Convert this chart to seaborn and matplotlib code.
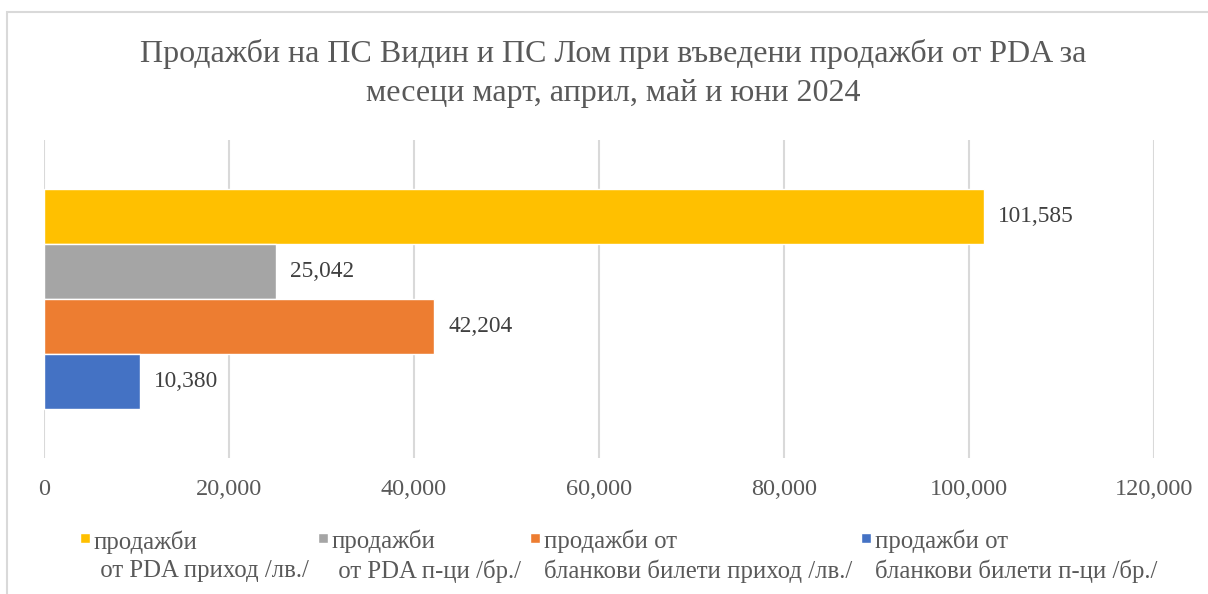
import pandas as pd
import numpy as np
import seaborn as sns
import matplotlib.pyplot as plt
from matplotlib.patches import Rectangle, Patch
from matplotlib.legend_handler import HandlerPatch

# ---- data ----
series = ['продажби\n от PDA приход /лв./',
          'продажби\n от PDA п-ци /бр./',
          'продажби от\nбланкови билети приход /лв./',
          'продажби от\nбланкови билети п-ци /бр./']
values = [101585, 25042, 42204, 10380]
colors = ['#FFC000', '#A5A5A5', '#ED7D31', '#4472C4']
xticks = [0, 20000, 40000, 60000, 80000, 100000, 120000]
title = 'Продажби на ПС Видин и ПС Лом при въведени продажби от PDA за\nмесеци март, април, май и юни 2024'

sns.set_theme(style='white')
plt.rcParams['font.family'] = ['Liberation Serif', 'DejaVu Serif']
txt = '#595959'

df = pd.DataFrame({'group': ['всички'] * len(values), 'series': series, 'value': values})

fig = plt.figure(figsize=(12.08, 5.94), dpi=100)
# light frame like the excel chart area
fig.patches.append(Rectangle((7 / 1208, -0.05), 1.1, 1 - 12 / 594 + 0.05, transform=fig.transFigure,
                             fill=False, edgecolor='#D9D9D9', linewidth=1.5))

ax = fig.add_axes([0.0364, 0.229, 0.919, 0.535])
sns.barplot(data=df, y='group', x='value', hue='series', hue_order=series, palette=colors,
            orient='h', width=0.69, gap=0, saturation=1, errorbar=None, legend=False, ax=ax)

for c in ax.containers:
    ax.bar_label(c, labels=[f'{v:,.0f}' for v in c.datavalues], padding=10,
                 fontsize=16.8, color='#404040')

ax.set_xlim(0, 120000)
ax.set_ylim(0.5, -0.5)
ax.set_xticks(xticks)
ax.set_xticklabels([f'{t:,}' for t in xticks], fontsize=17.5, color=txt)
ax.set_yticks([])
ax.set_xlabel('')
ax.set_ylabel('')
ax.tick_params(axis='x', length=0, pad=15)
ax.grid(axis='x', color='#D9D9D9', linewidth=1.5)
ax.set_axisbelow(True)
for s in ax.spines.values():
    s.set_visible(False)

fig.text(0.508, 0.934, title, ha='center', va='top', fontsize=23, color=txt, linespacing=1.43)


# legend square sits next to the first line of the label
def top_square(legend, orig_handle, xdescent, ydescent, width, height, fontsize):
    return Rectangle((-xdescent, -ydescent + fontsize * 0.9), width, 7.4)


handles = [Patch(facecolor=col) for col in colors]
leg = fig.legend(handles, series, loc='upper left', bbox_to_anchor=(0.066, 0.108), ncol=4,
                 frameon=False, fontsize=17.8, labelcolor=txt, handlelength=0.42, handleheight=0.7,
                 handletextpad=0.15, columnspacing=0.36, borderaxespad=0, borderpad=0,
                 handler_map={Patch: HandlerPatch(patch_func=top_square)})
for t in leg.get_texts():
    t.set_linespacing(1.35)

fig.savefig('out.png', dpi=100)
